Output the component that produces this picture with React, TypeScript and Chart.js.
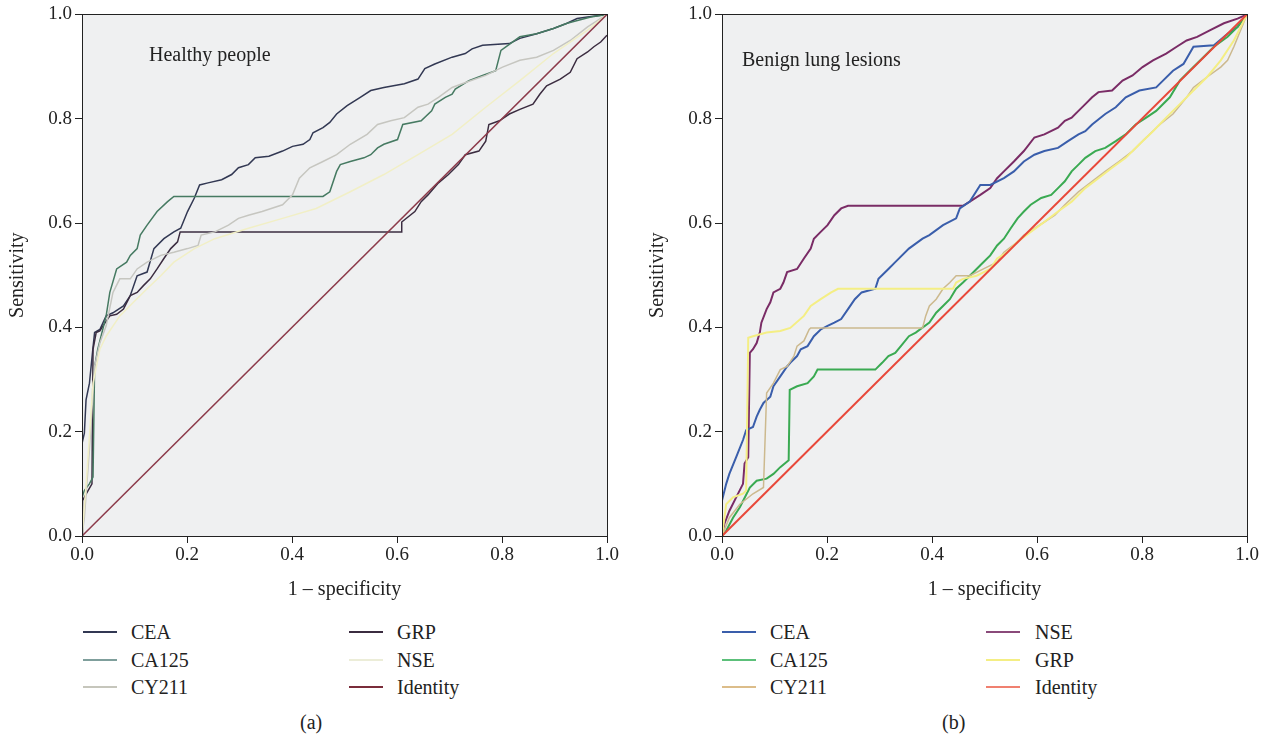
import React, { useEffect, useRef } from "react";
import { Chart, registerables } from "chart.js";

Chart.register(...registerables);

type Pt = [number, number];

// ---- Panel (a): Healthy people ----
const leftCEA: Pt[] = [
  [0, 0], [0, 0.177], [0.0045, 0.197], [0.0077, 0.261], [0.0142, 0.293], [0.0206, 0.358], [0.024, 0.39],
  [0.034, 0.396], [0.046, 0.422], [0.059, 0.428], [0.079, 0.441], [0.092, 0.461], [0.105, 0.499],
  [0.124, 0.506], [0.137, 0.551], [0.156, 0.57], [0.175, 0.583], [0.188, 0.59], [0.201, 0.622],
  [0.214, 0.648], [0.224, 0.673], [0.24, 0.677], [0.266, 0.683], [0.285, 0.693], [0.298, 0.706],
  [0.317, 0.712], [0.33, 0.725], [0.356, 0.728], [0.382, 0.738], [0.401, 0.747], [0.421, 0.751],
  [0.434, 0.76], [0.44, 0.773], [0.459, 0.783], [0.472, 0.793], [0.485, 0.809], [0.505, 0.825],
  [0.53, 0.841], [0.55, 0.854], [0.575, 0.86], [0.614, 0.867], [0.64, 0.876], [0.653, 0.896],
  [0.672, 0.905], [0.705, 0.918], [0.73, 0.925], [0.743, 0.934], [0.763, 0.941], [0.814, 0.944],
  [0.834, 0.954], [0.866, 0.963], [0.898, 0.973], [0.924, 0.983], [0.943, 0.992], [0.963, 0.995], [1, 1],
];
const leftCA125: Pt[] = [
  [0, 0], [0, 0.074], [0.0045, 0.087], [0.014, 0.1], [0.021, 0.113], [0.024, 0.325], [0.03, 0.358],
  [0.046, 0.422], [0.053, 0.467], [0.066, 0.512], [0.085, 0.525], [0.092, 0.538], [0.105, 0.551],
  [0.111, 0.577], [0.124, 0.596], [0.143, 0.622], [0.163, 0.641], [0.175, 0.651], [0.459, 0.651],
  [0.472, 0.66], [0.485, 0.699], [0.492, 0.712], [0.511, 0.718], [0.537, 0.725], [0.55, 0.731],
  [0.563, 0.744], [0.575, 0.751], [0.601, 0.76], [0.611, 0.789], [0.646, 0.796], [0.666, 0.815],
  [0.672, 0.828], [0.692, 0.841], [0.705, 0.847], [0.711, 0.857], [0.737, 0.873], [0.763, 0.883],
  [0.788, 0.892], [0.798, 0.931], [0.808, 0.938], [0.834, 0.957], [0.866, 0.963], [0.898, 0.973],
  [0.924, 0.983], [0.969, 0.995], [1, 1],
];
const leftCY211: Pt[] = [
  [0, 0], [0.0045, 0.035], [0.014, 0.164], [0.024, 0.325], [0.034, 0.37], [0.046, 0.403], [0.059, 0.467],
  [0.072, 0.493], [0.092, 0.493], [0.105, 0.512], [0.124, 0.525], [0.15, 0.538], [0.175, 0.544],
  [0.201, 0.551], [0.221, 0.557], [0.227, 0.577], [0.253, 0.583], [0.279, 0.596], [0.298, 0.609],
  [0.317, 0.615], [0.343, 0.622], [0.382, 0.635], [0.401, 0.654], [0.414, 0.686], [0.434, 0.706],
  [0.459, 0.718], [0.485, 0.731], [0.511, 0.751], [0.543, 0.77], [0.563, 0.789], [0.588, 0.796],
  [0.614, 0.802], [0.64, 0.822], [0.659, 0.828], [0.679, 0.841], [0.705, 0.86], [0.724, 0.867],
  [0.769, 0.883], [0.801, 0.899], [0.834, 0.912], [0.866, 0.918], [0.898, 0.931], [0.93, 0.95],
  [0.963, 0.976], [1, 1],
];
const leftGRP: Pt[] = [
  [0, 0], [0.001, 0.068], [0.008, 0.081], [0.019, 0.1], [0.021, 0.358], [0.027, 0.39], [0.034, 0.393],
  [0.04, 0.403], [0.053, 0.422], [0.066, 0.425], [0.079, 0.435], [0.092, 0.461], [0.105, 0.467],
  [0.117, 0.48], [0.13, 0.493], [0.143, 0.512], [0.156, 0.532], [0.169, 0.551], [0.182, 0.564],
  [0.187, 0.583], [0.608, 0.583], [0.609, 0.602], [0.634, 0.622], [0.646, 0.641], [0.659, 0.654],
  [0.679, 0.677], [0.698, 0.693], [0.717, 0.712], [0.73, 0.731], [0.756, 0.738], [0.769, 0.757],
  [0.775, 0.789], [0.795, 0.796], [0.814, 0.809], [0.834, 0.818], [0.859, 0.828], [0.872, 0.847],
  [0.885, 0.863], [0.911, 0.876], [0.93, 0.889], [0.943, 0.915], [0.963, 0.928], [0.975, 0.938],
  [0.988, 0.947], [1, 0.96],
];
const leftNSE: Pt[] = [
  [0, 0], [0.008, 0.1], [0.021, 0.293], [0.034, 0.358], [0.046, 0.383], [0.072, 0.422], [0.098, 0.448],
  [0.124, 0.474], [0.15, 0.499], [0.175, 0.525], [0.214, 0.551], [0.253, 0.57], [0.317, 0.59],
  [0.382, 0.609], [0.446, 0.628], [0.511, 0.66], [0.575, 0.693], [0.64, 0.731], [0.705, 0.77],
  [0.769, 0.822], [0.834, 0.873], [0.898, 0.925], [0.963, 0.97], [1, 1],
];
const identity: Pt[] = [[0, 0], [1, 1]];

// ---- Panel (b): Benign lung lesions ----
const rightCEA: Pt[] = [
  [0, 0], [0, 0.068], [0.008, 0.1], [0.014, 0.119], [0.027, 0.151], [0.04, 0.184], [0.046, 0.203],
  [0.059, 0.209], [0.066, 0.229], [0.072, 0.242], [0.079, 0.255], [0.092, 0.267], [0.098, 0.287],
  [0.111, 0.306], [0.124, 0.325], [0.13, 0.332], [0.143, 0.345], [0.15, 0.358], [0.163, 0.364],
  [0.175, 0.383], [0.188, 0.396], [0.201, 0.403], [0.214, 0.409], [0.227, 0.416], [0.24, 0.435],
  [0.253, 0.454], [0.266, 0.467], [0.292, 0.474], [0.298, 0.493], [0.317, 0.512], [0.33, 0.525],
  [0.356, 0.551], [0.382, 0.57], [0.395, 0.577], [0.421, 0.596], [0.446, 0.609], [0.453, 0.628],
  [0.472, 0.641], [0.492, 0.673], [0.511, 0.673], [0.537, 0.686], [0.556, 0.699], [0.575, 0.718],
  [0.595, 0.731], [0.614, 0.738], [0.64, 0.744], [0.659, 0.757], [0.679, 0.77], [0.692, 0.776],
  [0.705, 0.789], [0.73, 0.809], [0.75, 0.822], [0.769, 0.841], [0.795, 0.854], [0.827, 0.86],
  [0.84, 0.873], [0.859, 0.892], [0.879, 0.905], [0.898, 0.938], [0.937, 0.941], [0.963, 0.963],
  [0.982, 0.976], [1, 1],
];
const rightCA125: Pt[] = [
  [0, 0], [0.008, 0.01], [0.021, 0.035], [0.034, 0.055], [0.053, 0.093], [0.066, 0.106], [0.085, 0.11],
  [0.098, 0.119], [0.111, 0.132], [0.127, 0.145], [0.129, 0.28], [0.143, 0.287], [0.163, 0.293],
  [0.175, 0.306], [0.182, 0.319], [0.292, 0.319], [0.305, 0.332], [0.317, 0.345], [0.33, 0.351],
  [0.343, 0.367], [0.356, 0.383], [0.369, 0.39], [0.395, 0.409], [0.408, 0.428], [0.421, 0.441],
  [0.434, 0.454], [0.446, 0.474], [0.459, 0.486], [0.472, 0.499], [0.492, 0.519], [0.511, 0.538],
  [0.524, 0.557], [0.537, 0.57], [0.55, 0.59], [0.563, 0.609], [0.575, 0.622], [0.588, 0.635],
  [0.608, 0.648], [0.627, 0.654], [0.64, 0.667], [0.653, 0.68], [0.666, 0.699], [0.679, 0.712],
  [0.692, 0.725], [0.711, 0.738], [0.73, 0.744], [0.75, 0.757], [0.769, 0.77], [0.788, 0.789],
  [0.808, 0.802], [0.827, 0.815], [0.853, 0.841], [0.872, 0.873], [0.898, 0.899], [0.917, 0.918],
  [0.937, 0.938], [0.963, 0.957], [0.982, 0.976], [1, 1],
];
const rightCY211: Pt[] = [
  [0, 0], [0.014, 0.035], [0.034, 0.061], [0.059, 0.081], [0.079, 0.093], [0.085, 0.274], [0.098, 0.293],
  [0.111, 0.319], [0.124, 0.325], [0.137, 0.345], [0.143, 0.364], [0.156, 0.374], [0.166, 0.396],
  [0.169, 0.399], [0.382, 0.399], [0.388, 0.422], [0.395, 0.441], [0.408, 0.454], [0.421, 0.474],
  [0.434, 0.486], [0.446, 0.499], [0.472, 0.499], [0.498, 0.512], [0.524, 0.525], [0.537, 0.544],
  [0.563, 0.564], [0.575, 0.577], [0.595, 0.59], [0.614, 0.602], [0.634, 0.615], [0.653, 0.635],
  [0.679, 0.66], [0.705, 0.68], [0.73, 0.699], [0.756, 0.718], [0.782, 0.738], [0.808, 0.764],
  [0.834, 0.789], [0.859, 0.809], [0.885, 0.841], [0.898, 0.86], [0.924, 0.88], [0.95, 0.899],
  [0.963, 0.912], [0.975, 0.938], [1, 1],
];
const rightNSE: Pt[] = [
  [0, 0], [0.0045, 0.023], [0.014, 0.048], [0.027, 0.074], [0.04, 0.1], [0.043, 0.139], [0.05, 0.151],
  [0.053, 0.351], [0.059, 0.358], [0.066, 0.37], [0.072, 0.39], [0.075, 0.409], [0.085, 0.435],
  [0.092, 0.448], [0.098, 0.467], [0.111, 0.474], [0.117, 0.486], [0.124, 0.506], [0.143, 0.512],
  [0.156, 0.532], [0.169, 0.551], [0.175, 0.57], [0.188, 0.583], [0.201, 0.596], [0.214, 0.615],
  [0.227, 0.628], [0.24, 0.633], [0.459, 0.633], [0.472, 0.641], [0.492, 0.654], [0.511, 0.667],
  [0.524, 0.686], [0.537, 0.699], [0.556, 0.718], [0.575, 0.738], [0.595, 0.764], [0.614, 0.77],
  [0.64, 0.783], [0.653, 0.796], [0.666, 0.802], [0.679, 0.815], [0.692, 0.828], [0.705, 0.841],
  [0.717, 0.851], [0.743, 0.854], [0.763, 0.873], [0.782, 0.883], [0.801, 0.899], [0.821, 0.912],
  [0.846, 0.925], [0.866, 0.938], [0.885, 0.95], [0.905, 0.957], [0.93, 0.97], [0.956, 0.983],
  [0.982, 0.992], [1, 1],
];
const rightGRP: Pt[] = [
  [0, 0], [0.008, 0.061], [0.021, 0.074], [0.04, 0.081], [0.046, 0.087], [0.05, 0.38], [0.059, 0.383],
  [0.085, 0.39], [0.111, 0.393], [0.13, 0.399], [0.156, 0.422], [0.169, 0.441], [0.188, 0.454],
  [0.208, 0.467], [0.221, 0.474], [0.44, 0.474], [0.446, 0.486], [0.459, 0.493], [0.485, 0.499],
  [0.511, 0.512], [0.524, 0.532], [0.543, 0.544], [0.563, 0.564], [0.588, 0.583], [0.614, 0.602],
  [0.64, 0.622], [0.666, 0.641], [0.692, 0.667], [0.717, 0.686], [0.743, 0.706], [0.769, 0.725],
  [0.795, 0.751], [0.821, 0.776], [0.846, 0.802], [0.872, 0.828], [0.898, 0.854], [0.924, 0.88],
  [0.95, 0.912], [0.975, 0.95], [1, 1],
];

const xTicks = [0, 0.2, 0.4, 0.6, 0.8, 1.0];
const yTicks = [0, 0.2, 0.4, 0.6, 0.8, 1.0];

const FONT = "'Liberation Serif', 'DejaVu Serif', serif";

interface Series { label: string; data: Pt[]; color: string; width: number; }

const leftSeries: Series[] = [
  { label: "Identity", data: identity, color: "#8c3a4a", width: 1.5 },
  { label: "NSE", data: leftNSE, color: "#f1efc6", width: 1.5 },
  { label: "CY211", data: leftCY211, color: "#c6c6c0", width: 1.5 },
  { label: "CA125", data: leftCA125, color: "#467a62", width: 1.5 },
  { label: "GRP", data: leftGRP, color: "#3b2c40", width: 1.5 },
  { label: "CEA", data: leftCEA, color: "#323853", width: 1.5 },
];
const rightSeries: Series[] = [
  { label: "Identity", data: identity, color: "#e8483a", width: 2 },
  { label: "GRP", data: rightGRP, color: "#f4ee84", width: 2 },
  { label: "CY211", data: rightCY211, color: "#ccb98e", width: 1.5 },
  { label: "CA125", data: rightCA125, color: "#3aaa52", width: 2 },
  { label: "CEA", data: rightCEA, color: "#3a5eab", width: 2 },
  { label: "NSE", data: rightNSE, color: "#7a2c66", width: 2 },
];

const leftLegend = [
  ["CEA", "#323853"], ["CA125", "#7f9f9c"], ["CY211", "#c6c6bc"],
  ["GRP", "#3b2c40"], ["NSE", "#ecedd8"], ["Identity", "#7a2c3a"],
];
const rightLegend = [
  ["CEA", "#3a5eab"], ["CA125", "#5cc07a"], ["CY211", "#dcbd8a"],
  ["NSE", "#8a4a7a"], ["GRP", "#f4ee84"], ["Identity", "#f08070"],
];

const framePlugin = {
  id: "frame",
  beforeDraw(chart: any) {
    const { ctx, chartArea: a } = chart;
    ctx.save();
    ctx.fillStyle = "#eff0f1";
    ctx.fillRect(a.left, a.top, a.right - a.left, a.bottom - a.top);
    ctx.restore();
  },
  afterDraw(chart: any) {
    const { ctx, chartArea: a } = chart;
    ctx.save();
    ctx.strokeStyle = "#222";
    ctx.lineWidth = 1;
    ctx.strokeRect(Math.round(a.left) + 0.5, Math.round(a.top) + 0.5, Math.round(a.right - a.left), Math.round(a.bottom - a.top));
    ctx.restore();
  },
};

function RocChart({ series }: { series: Series[] }) {
  const ref = useRef<HTMLCanvasElement>(null);
  useEffect(() => {
    if (!ref.current) return;
    const chart = new Chart(ref.current, {
      type: "line",
      data: {
        datasets: series.map((s) => ({
          label: s.label,
          data: s.data.map(([x, y]) => ({ x, y })),
          borderColor: s.color,
          borderWidth: s.width,
          pointRadius: 0,
          fill: false,
          tension: 0,
        })),
      },
      options: {
        animation: false,
        responsive: false,
        maintainAspectRatio: false,
        layout: { padding: { top: 12, right: 18, bottom: 16, left: 0 } },
        plugins: { legend: { display: false }, tooltip: { enabled: false } },
        scales: {
          x: {
            type: "linear",
            min: 0,
            max: 1,
            afterBuildTicks: (s: any) => { s.ticks = xTicks.map((v) => ({ value: v })); },
            afterFit: (s: any) => { s.height = 68; },
            ticks: { font: { family: FONT, size: 19 }, color: "#222", padding: 1, maxRotation: 0, callback: (v: any) => Number(v).toFixed(1) },
            grid: { drawOnChartArea: false, drawTicks: true, tickLength: 7, color: "#222" },
            border: { display: false },
            title: { display: true, text: "1 – specificity", font: { family: FONT, size: 20 }, color: "#222", padding: { top: 4, bottom: 2 } },
          },
          y: {
            type: "linear",
            min: 0,
            max: 1,
            afterBuildTicks: (s: any) => { s.ticks = yTicks.map((v) => ({ value: v })); },
            afterFit: (s: any) => { s.width = 82; },
            ticks: { font: { family: FONT, size: 19 }, color: "#222", padding: 3, callback: (v: any) => Number(v).toFixed(1) },
            grid: { drawOnChartArea: false, drawTicks: true, tickLength: 7, color: "#222" },
            border: { display: false },
            title: { display: true, text: "Sensitivity", font: { family: FONT, size: 20 }, color: "#222", padding: { top: 6, bottom: 4 } },
          },
        },
      },
      plugins: [framePlugin],
    } as any);
    return () => chart.destroy();
  }, [series]);
  return <canvas ref={ref} width={625} height={620} style={{ position: "absolute", left: 0, top: 0, width: 625, height: 620 }} />;
}

function Legend({ items, c1Line, c1Text, c2Line, c2Text }: { items: string[][]; c1Line: number; c1Text: number; c2Line: number; c2Text: number }) {
  const rows = [632, 660, 687];
  return (
    <>
      {items.map(([label, color], i) => {
        const col = i < 3 ? 0 : 1;
        const y = rows[i % 3];
        const lx = col === 0 ? c1Line : c2Line;
        const tx = col === 0 ? c1Text : c2Text;
        return (
          <React.Fragment key={label}>
            <div style={{ position: "absolute", left: lx, top: y - 1, width: 34, height: 2, background: color }} />
            <div style={{ position: "absolute", left: tx, top: y - 12, height: 24, lineHeight: "24px", fontFamily: FONT, fontSize: 20, color: "#222", whiteSpace: "nowrap" }}>{label}</div>
          </React.Fragment>
        );
      })}
    </>
  );
}

export default function App() {
  const textStyle: React.CSSProperties = { position: "absolute", fontFamily: FONT, fontSize: 20, lineHeight: "24px", color: "#222", whiteSpace: "nowrap" };
  return (
    <div style={{ position: "absolute", left: 0, top: 0, width: 1268, height: 743, background: "#fff", overflow: "hidden" }}>
      <div style={{ position: "absolute", left: 0, top: 0, width: 625, height: 620 }}>
        <RocChart series={leftSeries} />
      </div>
      <div style={{ position: "absolute", left: 640, top: 0, width: 625, height: 620 }}>
        <RocChart series={rightSeries} />
      </div>
      <div style={{ ...textStyle, left: 149, top: 42 }}>Healthy people</div>
      <div style={{ ...textStyle, left: 742, top: 47 }}>Benign lung lesions</div>
      <Legend items={leftLegend} c1Line={83} c1Text={131} c2Line={349} c2Text={397} />
      <Legend items={rightLegend} c1Line={722} c1Text={770} c2Line={986} c2Text={1035} />
      <div style={{ ...textStyle, left: 300, top: 710 }}>(a)</div>
      <div style={{ ...textStyle, left: 942, top: 710 }}>(b)</div>
    </div>
  );
}
